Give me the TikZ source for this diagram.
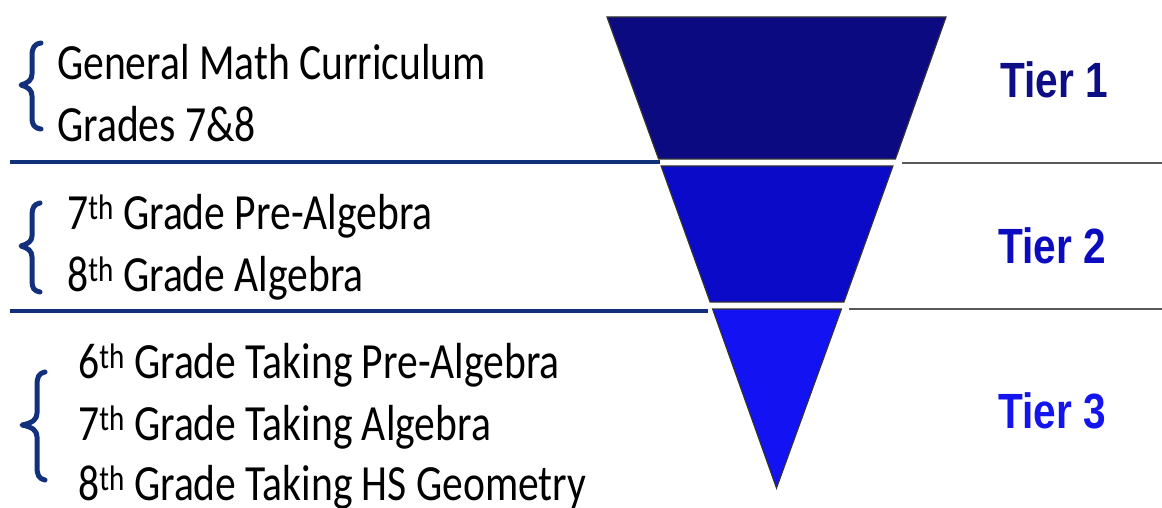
\documentclass[tikz,border=0pt]{standalone}
\usepackage{graphicx}
\usepackage{fontspec}
\setmainfont{Carlito}
\newfontfamily\tierfont{Liberation Sans}
\definecolor{navyline}{HTML}{12307A}
\definecolor{bracecol}{HTML}{13307C}
\definecolor{tierA}{HTML}{0C0A80}
\definecolor{tierB}{HTML}{0A0AC8}
\definecolor{tierC}{HTML}{1212F2}
\definecolor{tierAtext}{HTML}{0D0D85}
\definecolor{tierBtext}{HTML}{0B0BC0}
\definecolor{tierCtext}{HTML}{1414EE}
\begin{document}
\begin{tikzpicture}[x=1pt,y=-1pt,
  lefttext/.style={anchor=base west,inner sep=0pt,font=\fontsize{50.7}{60}\selectfont},
  tiertext/.style={anchor=base west,inner sep=0pt,font=\tierfont\bfseries\fontsize{49.5}{58}\selectfont},
  seg/.style={draw=black!80,line width=1.2pt},
  brace/.style={draw=bracecol,line width=5pt,line cap=round,line join=round},
  navyrule/.style={draw=navyline,line width=3.5pt},
  grayrule/.style={draw=black!65,line width=2.5pt}]
\useasboundingbox (0,0) rectangle (1162,508);
\fill[white] (0,0) rectangle (1162,508);
% funnel
\filldraw[seg,fill=tierA] (607,17) -- (946,17) -- (895.4,159) -- (658.6,159) -- cycle;
\filldraw[seg,fill=tierB] (661.1,166) -- (892.9,166) -- (843.9,302) -- (710.1,302) -- cycle;
\filldraw[seg,fill=tierC] (712.6,309) -- (841.4,309) -- (776.5,488) -- cycle;
% dividers
\coordinate (d1a) at (10,162); \coordinate (d1b) at (660,162);
\coordinate (d1c) at (902,163); \coordinate (d1d) at (1162,163);
\coordinate (d2a) at (10,311); \coordinate (d2b) at (708,311);
\coordinate (d2c) at (849,309); \coordinate (d2d) at (1162,309);
\draw[navyrule] (d1a) -- (d1b);
\draw[grayrule] (d1c) -- (d1d);
\draw[navyrule] (d2a) -- (d2b);
\draw[grayrule] (d2c) -- (d2d);
% braces
\draw[brace] (41,43) .. controls (34,44) and (32,48) .. (32,56) -- (32,74) .. controls (32,80) and (28,83) .. (21,85) .. controls (28,87) and (32,90) .. (32,96) -- (32,117) .. controls (32,125) and (34,128) .. (41,129);
\draw[brace] (40,203) .. controls (34,204) and (32,208) .. (32,215) -- (32,236) .. controls (32,241) and (28,244) .. (21,246) .. controls (28,248) and (32,251) .. (32,257) -- (32,281) .. controls (32,288) and (34,291) .. (40,292);
\draw[brace] (45,372) .. controls (39,373) and (37,377) .. (37,385) -- (37,413) .. controls (37,419) and (33,423) .. (22,425) .. controls (33,427) and (37,431) .. (37,437) -- (37,467) .. controls (37,475) and (39,479) .. (45,480);
% left texts
\node[lefttext] (t1a) at (57,80) {\scalebox{0.82}[1]{General Math Curriculum}};
\node[lefttext] (t1b) at (57,142) {\scalebox{0.82}[1]{Grades 7\&8}};
\node[lefttext] (t2a) at (67,229) {\scalebox{0.82}[1]{7\textsuperscript{th} Grade Pre-Algebra}};
\node[lefttext] (t2b) at (67,291) {\scalebox{0.82}[1]{8\textsuperscript{th} Grade Algebra}};
\node[lefttext] (t3a) at (78,378) {\scalebox{0.82}[1]{6\textsuperscript{th} Grade Taking Pre-Algebra}};
\node[lefttext] (t3b) at (78,440) {\scalebox{0.82}[1]{7\textsuperscript{th} Grade Taking Algebra}};
\node[lefttext] (t3c) at (78,500) {\scalebox{0.82}[1]{8\textsuperscript{th} Grade Taking HS Geometry}};
% tier labels
\node[tiertext,text=tierAtext] (tier1) at (1000,98) {\scalebox{0.82}[1]{Tier 1}};
\node[tiertext,text=tierBtext] (tier2) at (998,263) {\scalebox{0.82}[1]{Tier 2}};
\node[tiertext,text=tierCtext] (tier3) at (998,428) {\scalebox{0.82}[1]{Tier 3}};
\end{tikzpicture}
\end{document}
